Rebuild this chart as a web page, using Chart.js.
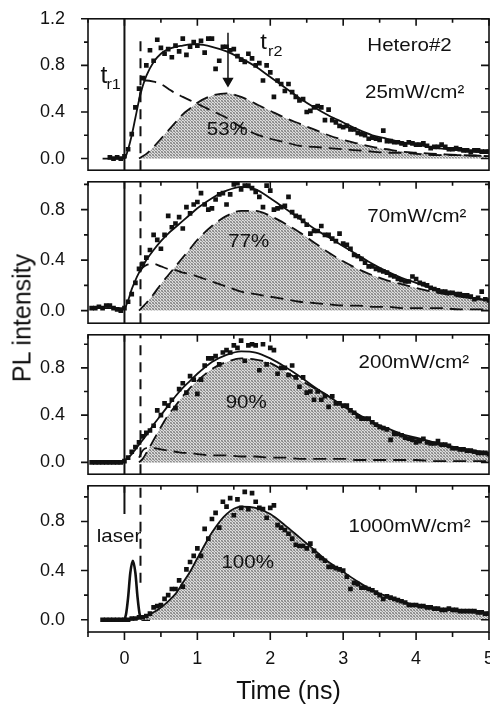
<!DOCTYPE html>
<html>
<head>
<meta charset="utf-8">
<script src="https://cdn.jsdelivr.net/npm/chart.js@4.4.1/dist/chart.umd.min.js"></script>
<style>
  html, body { margin: 0; padding: 0; background: #fff; overflow: hidden; }
  #wrap { position: relative; width: 490px; height: 708px; overflow: hidden; }
  #wrap canvas { position: absolute; left: 0; }
  #ylabel {
    position: absolute; left: 22px; top: 318px;
    transform: translate(-50%, -50%) rotate(-90deg);
    font: 25px "Liberation Sans", Arial, sans-serif; color: #111; white-space: nowrap;
  }
</style>
</head>
<body>
<div id="wrap">
  <canvas id="panel0"></canvas>
  <canvas id="panel1"></canvas>
  <canvas id="panel2"></canvas>
  <canvas id="panel3"></canvas>
  <div id="ylabel">PL intensity</div>
</div>
<script>
// sampling times of the measured points (ns)
const pointTimes = [
  -0.45,-0.40,-0.35,-0.30,-0.25,-0.20,-0.15,-0.10,-0.05,0.00,
  0.05,0.10,0.15,0.20,0.25,0.30,0.35,0.40,0.45,0.50,
  0.55,0.60,0.65,0.70,0.75,0.80,0.85,0.90,0.95,1.00,
  1.05,1.10,1.15,1.20,1.25,1.30,1.35,1.40,1.45,1.50,
  1.55,1.60,1.65,1.70,1.75,1.80,1.85,1.90,1.95,2.00,
  2.05,2.10,2.15,2.20,2.25,2.30,2.35,2.40,2.45,2.50,
  2.55,2.60,2.65,2.70,2.75,2.80,2.85,2.90,2.95,3.00,
  3.05,3.10,3.15,3.20,3.25,3.30,3.35,3.40,3.45,3.50,
  3.55,3.60,3.65,3.70,3.75,3.80,3.85,3.90,3.95,4.00,
  4.05,4.10,4.15,4.20,4.25,4.30,4.35,4.40,4.45,4.50,
  4.55,4.60,4.65,4.70,4.75,4.80,4.85,4.90,4.95,5.00
];

const points25 = [
  null,null,null,null,null,0.01,0.00,0.01,0.00,0.02,
  0.08,0.21,0.44,0.60,0.69,0.80,0.93,0.84,1.02,0.95,
  0.90,0.94,0.87,0.97,0.92,1.03,0.89,0.96,1.00,0.97,
  1.01,0.91,1.03,1.03,0.77,0.84,0.96,0.96,0.93,0.94,
  0.88,0.85,0.83,0.90,0.86,0.80,0.82,0.67,0.80,0.74,
  0.53,0.67,0.64,0.58,0.64,0.57,0.53,0.50,0.51,0.40,
  0.41,0.44,0.45,0.44,0.33,0.42,0.33,0.31,0.28,0.27,
  0.28,0.25,0.25,0.22,0.21,0.20,0.17,0.18,0.17,0.16,
  0.24,0.15,0.15,0.14,0.14,0.13,0.12,0.14,0.13,0.12,
  0.12,0.13,0.11,0.09,0.10,0.10,0.12,0.10,0.08,0.08,
  0.09,0.08,0.07,0.07,0.06,0.07,0.07,0.06,0.06,0.06
];
const points70 = [
  0.02,0.02,0.03,0.02,0.04,0.04,0.02,0.01,0.00,0.02,
  0.07,0.13,0.22,0.33,0.37,0.42,0.48,0.60,0.56,0.49,
  0.60,0.75,0.66,0.69,0.74,0.65,0.82,0.77,0.84,0.86,
  0.93,0.84,0.80,0.81,0.88,0.92,0.93,0.84,0.92,1.00,
  1.01,0.96,0.99,0.99,0.97,0.94,0.90,0.82,0.99,0.95,
  0.80,0.81,0.82,0.83,0.90,0.78,0.75,0.74,0.71,0.68,
  0.61,0.63,0.63,0.67,0.60,0.60,0.57,0.55,0.61,0.53,
  0.52,0.49,0.44,0.43,0.41,0.38,0.35,0.35,0.33,0.32,
  0.31,0.30,0.28,0.27,0.25,0.24,0.23,0.23,0.27,0.25,
  0.22,0.21,0.20,0.18,0.17,0.16,0.15,0.15,0.14,0.14,
  0.13,0.13,0.12,0.12,0.11,0.09,0.10,0.15,0.09,0.08
];
const points200 = [
  0.00,0.00,0.00,0.00,0.00,0.00,0.00,0.00,0.00,0.01,
  0.04,0.09,0.13,0.17,0.22,0.25,0.27,0.31,0.44,0.40,
  0.50,0.48,0.53,0.46,0.62,0.67,0.59,0.73,0.70,0.58,
  0.70,0.82,0.88,0.88,0.90,0.83,0.93,0.95,0.93,0.99,
  0.97,1.03,0.86,0.99,1.00,0.99,0.78,1.00,0.83,0.97,
  0.95,0.75,0.80,0.80,0.74,0.82,0.72,0.64,0.72,0.59,
  0.60,0.53,0.60,0.53,0.56,0.47,0.56,0.50,0.50,0.48,
  0.48,0.44,0.42,0.39,0.37,0.37,0.37,0.34,0.32,0.30,
  0.29,0.28,0.19,0.24,0.24,0.23,0.21,0.20,0.19,0.17,
  0.18,0.20,0.17,0.16,0.16,0.18,0.15,0.15,0.14,0.12,
  0.12,0.11,0.11,0.10,0.10,0.09,0.08,0.08,0.08,0.07
];
const points1000 = [
  null,null,null,0.00,0.00,0.00,0.00,0.00,0.00,0.00,
  0.00,0.01,0.01,0.02,0.02,0.03,0.05,0.10,0.11,0.12,
  0.17,0.20,0.25,0.25,0.32,0.27,0.41,0.47,0.52,0.58,
  0.52,0.74,0.66,0.82,0.87,0.75,0.96,0.92,0.99,0.85,
  0.98,0.91,1.04,0.90,1.03,0.96,0.91,0.90,0.83,0.91,
  0.93,0.77,0.75,0.73,0.70,0.66,0.61,0.60,0.60,0.58,
  0.62,0.56,0.52,0.50,0.48,0.43,0.43,0.42,0.41,0.40,
  0.35,0.25,0.30,0.29,0.26,0.26,0.25,0.24,0.22,0.20,
  0.17,0.19,0.18,0.17,0.16,0.15,0.14,0.12,0.12,0.12,
  0.11,0.11,0.10,0.10,0.09,0.09,0.08,0.08,0.09,0.08,
  0.08,0.07,0.07,0.07,0.07,0.07,0.06,0.06,0.05,0.05
];

// times of the fitted curves (ns)
const curveTimes = [
  -0.45,-0.3,-0.1,0,0.05,0.1,0.15,0.2,0.25,0.3,0.4,0.5,0.6,0.7,0.8,0.9,1.0,
  1.2,1.4,1.6,1.8,2.0,2.2,2.4,2.6,2.8,3.0,3.2,3.4,3.6,3.8,4.0,4.3,4.6,5.0
];
const fit25 = [null,0,0,0,0.08,0.2,0.35,0.5,0.62,0.71,0.83,0.9,0.94,0.96,0.97,0.98,0.98,
  0.96,0.92,0.86,0.79,0.7,0.61,0.52,0.44,0.37,0.31,0.25,0.2,0.17,0.14,0.12,0.09,0.07,0.05];
const fast25 = [null,null,null,null,null,null,null,0.5,0.66,0.67,0.66,0.64,0.6,0.56,0.53,0.5,0.47,
  0.41,0.35,0.27,0.21,0.17,0.14,0.11,0.1,0.09,0.08,0.07,0.06,0.05,0.05,0.04,0.03,0.03,0.02];
const slow25 = [null,null,null,null,null,null,null,0,0.02,0.04,0.1,0.17,0.24,0.31,0.38,0.43,0.48,
  0.54,0.56,0.53,0.47,0.41,0.35,0.3,0.25,0.2,0.16,0.13,0.1,0.08,0.06,0.05,0.04,0.03,0.02];

const fit70 = [0.02,0.02,0.02,0.02,0.08,0.17,0.24,0.3,0.35,0.4,0.48,0.55,0.61,0.66,0.71,0.76,0.81,
  0.89,0.95,0.98,0.96,0.89,0.81,0.73,0.65,0.58,0.51,0.44,0.37,0.31,0.26,0.22,0.16,0.12,0.08];
const fast70 = [null,null,null,null,null,null,null,0.3,0.34,0.36,0.37,0.35,0.33,0.32,0.3,0.29,0.27,
  0.23,0.19,0.15,0.13,0.11,0.09,0.07,0.06,0.05,0.04,0.04,0.03,0.03,0.02,0.02,0.02,0.01,0.01];
const slow70 = [null,null,null,null,null,null,null,0,0.03,0.06,0.13,0.21,0.28,0.35,0.42,0.49,0.56,
  0.67,0.75,0.79,0.79,0.75,0.69,0.62,0.54,0.46,0.39,0.33,0.28,0.24,0.21,0.18,0.14,0.11,0.08];

const fit200 = [0,0,0,0.02,0.04,0.07,0.11,0.15,0.19,0.23,0.32,0.4,0.48,0.56,0.63,0.69,0.75,
  0.85,0.91,0.94,0.93,0.88,0.81,0.73,0.64,0.56,0.48,0.41,0.34,0.29,0.24,0.21,0.16,0.12,0.08];
const fast200 = [null,null,null,null,null,null,null,0.04,0.1,0.12,0.12,0.11,0.1,0.09,0.08,0.08,0.07,
  0.06,0.06,0.05,0.05,0.04,0.04,0.03,0.03,0.03,0.03,0.02,0.02,0.02,0.02,0.02,0.01,0.01,0.01];
const slow200 = [null,null,null,null,null,null,null,0,0.03,0.08,0.19,0.3,0.4,0.48,0.56,0.63,0.69,
  0.79,0.85,0.88,0.87,0.84,0.77,0.7,0.63,0.56,0.48,0.4,0.33,0.28,0.23,0.2,0.15,0.11,0.07];

const fit1000 = [null,0,0,0,0,0,0.005,0.01,0.02,0.03,0.06,0.1,0.15,0.21,0.3,0.39,0.5,
  0.71,0.86,0.92,0.91,0.86,0.77,0.67,0.57,0.47,0.39,0.31,0.24,0.19,0.15,0.12,0.09,0.07,0.05];

// excitation pulse
const laserTimes = [-0.3,-0.02,0.02,0.05,0.08,0.115,0.15,0.18,0.21,0.25,0.35];
const laserValues = [0,0,0.04,0.18,0.38,0.48,0.38,0.18,0.04,0,0];

const powerLabels = ["25mW/cm\u00b2", "70mW/cm\u00b2", "200mW/cm\u00b2", "1000mW/cm\u00b2"];
const slowShares = ["53%", "77%", "90%", "100%"];

// layout of the four stacked panels
const panelRanges = [[-0.1, 1.2], [-0.1, 1.02], [-0.1, 1.08], [-0.1, 1.09]];
const panelPx = [[13, 176], [176, 329], [329, 480], [480, 632]];
const solidSpans = [[-0.1, 1.2], [-0.1, 1.02], [-0.1, 1.08], [0.86, 1.09]];
const dashSpans = [[-0.1, 1.02], [-0.1, 1.02], [-0.1, 1.08], [0.3, 1.09]];

const ink = "#111";
const family = '"Liberation Sans", Arial, Helvetica, sans-serif';

const annotations = [
  [
    { text: "Hetero#2", t: 3.91, v: 0.924, size: 19 },
    { text: powerLabels[0], t: 3.98, v: 0.518, size: 19 },
    { text: slowShares[0], t: 1.41, v: 0.2, size: 19 },
    { text: "t", t: -0.33, v: 0.645, size: 23, align: "left" },
    { text: "r1", t: -0.247, v: 0.6, size: 15, align: "left" },
    { text: "t", t: 1.863, v: 0.94, size: 22, align: "left" },
    { text: "r2", t: 1.97, v: 0.877, size: 15, align: "left" },
  ],
  [
    { text: powerLabels[1], t: 4.01, v: 0.7, size: 19 },
    { text: slowShares[1], t: 1.705, v: 0.507, size: 19 },
  ],
  [
    { text: powerLabels[2], t: 3.97, v: 0.8, size: 19 },
    { text: slowShares[2], t: 1.67, v: 0.463, size: 19 },
  ],
  [
    { text: powerLabels[3], t: 3.91, v: 0.714, size: 19 },
    { text: slowShares[3], t: 1.69, v: 0.424, size: 19 },
    { text: "laser", t: -0.075, v: 0.635, size: 19 },
  ],
];

// frame, minor/major ticks on all four sides
const frameTicks = {
  id: "frameTicks",
  afterDatasetsDraw(chart, args, opts) {
    const { ctx, chartArea: a } = chart;
    const x = chart.scales.x;
    const y = chart.scales.y;
    ctx.save();
    ctx.strokeStyle = ink;
    ctx.lineWidth = 1.6;
    ctx.strokeRect(a.left, a.top, a.right - a.left, a.bottom - a.top);
    ctx.beginPath();
    for (let k = Math.ceil(y.min / 0.2 - 1e-6); k * 0.2 <= y.max + 1e-6; k++) {
      const py = y.getPixelForValue(k * 0.2);
      const major = k % 2 === 0;
      ctx.moveTo(a.left - (major ? 7 : 4), py);
      ctx.lineTo(a.left, py);
      ctx.moveTo(a.right, py);
      ctx.lineTo(a.right - (major ? 8 : 4), py);
    }
    for (let k = Math.ceil(x.min / 0.5 - 1e-6); k * 0.5 <= x.max + 1e-6; k++) {
      const px = x.getPixelForValue(k * 0.5);
      const major = k % 2 === 0;
      ctx.moveTo(px, a.top);
      ctx.lineTo(px, a.top + (major ? 7 : 4));
      if (opts.bottomTicks) {
        ctx.moveTo(px, a.bottom);
        ctx.lineTo(px, a.bottom + (major ? 8 : 5));
      }
    }
    ctx.stroke();
    ctx.restore();
  },
};

// labels placed in data coordinates
const annotationText = {
  id: "annotationText",
  afterDatasetsDraw(chart, args, opts) {
    const { ctx } = chart;
    const x = chart.scales.x;
    const y = chart.scales.y;
    ctx.save();
    ctx.fillStyle = ink;
    ctx.textBaseline = "alphabetic";
    (opts.items || []).forEach((it) => {
      ctx.font = `${it.size}px ${family}`;
      ctx.textAlign = it.align || "center";
      ctx.save();
      ctx.translate(x.getPixelForValue(it.t), y.getPixelForValue(it.v));
      ctx.scale(1.08, 1);
      ctx.fillText(it.text, 0, 0);
      ctx.restore();
    });
    ctx.restore();
  },
};

function makeHalftone(ctx) {
  const c = document.createElement("canvas");
  c.width = 3;
  c.height = 3;
  const g = c.getContext("2d");
  const img = g.createImageData(3, 3);
  const shades = [0x80, 0xd2, 0xa8, 0xd2, 0x98, 0xe2, 0xa8, 0xe2, 0x88];
  shades.forEach((s, i) => {
    img.data[i * 4] = s;
    img.data[i * 4 + 1] = s;
    img.data[i * 4 + 2] = s;
    img.data[i * 4 + 3] = 255;
  });
  g.putImageData(img, 0, 0);
  return ctx.createPattern(c, "repeat");
}

function scatterSet(values) {
  return {
    data: pointTimes.map((t, i) => ({ x: t, y: values[i] })).filter((p) => p.y !== null),
    showLine: false,
    pointStyle: "rect",
    pointRadius: 3.3,
    pointBackgroundColor: ink,
    pointBorderColor: ink,
    pointBorderWidth: 0,
  };
}

function curveSet(values, extra) {
  return Object.assign(
    {
      data: curveTimes.map((t, i) => ({ x: t, y: values[i] })).filter((p) => p.y !== null),
      borderColor: ink,
      borderWidth: 1.8,
      pointRadius: 0,
      cubicInterpolationMode: "monotone",
      fill: false,
    },
    extra
  );
}

function vline(t, span, dashed) {
  return {
    data: [{ x: t, y: span[0] }, { x: t, y: span[1] }],
    borderColor: ink,
    borderWidth: 2,
    borderDash: dashed ? [10, 7] : [],
    pointRadius: 0,
    fill: false,
  };
}

function buildPanel(idx, datasets, xAxisShown) {
  const [top, bottom] = panelPx[idx];
  const [yMin, yMax] = panelRanges[idx];
  const canvas = document.getElementById("panel" + idx);
  const padTop = 20;
  const padBottom = xAxisShown ? 0 : 20;
  const height = xAxisShown ? 708 - (top - padTop) : bottom - top + padTop + padBottom;
  canvas.width = 505;
  canvas.height = height;
  canvas.style.width = "505px";
  canvas.style.height = height + "px";
  canvas.style.top = top - padTop + "px";

  new Chart(canvas, {
    type: "line",
    data: { datasets },
    options: {
      responsive: false,
      animation: false,
      devicePixelRatio: 1,
      events: [],
      layout: { padding: { top: padTop, bottom: padBottom, left: 0, right: 16 } },
      plugins: {
        legend: { display: false },
        tooltip: { enabled: false },
        frameTicks: { bottomTicks: xAxisShown },
        annotationText: { items: annotations[idx] },
      },
      scales: {
        x: {
          type: "linear",
          min: -0.5,
          max: 5,
          display: xAxisShown,
          grid: { display: false },
          border: { display: false },
          ticks: {
            stepSize: 1,
            includeBounds: false,
            padding: 8,
            maxRotation: 0,
            color: ink,
            font: { family, size: 18 },
          },
          title: {
            display: true,
            text: "Time (ns)",
            color: ink,
            font: { family, size: 25 },
            padding: { top: 0, bottom: 1 },
          },
          afterFit: (s) => {
            s.height = xAxisShown ? 708 - bottom : 0;
          },
        },
        y: {
          type: "linear",
          min: yMin,
          max: yMax,
          grid: { display: false },
          border: { display: false },
          ticks: {
            stepSize: 0.4,
            includeBounds: false,
            padding: 15,
            color: ink,
            font: { family, size: 18 },
            callback: (v) => Number(v).toFixed(1),
          },
          afterFit: (s) => {
            s.width = 88;
          },
        },
      },
    },
    plugins: [frameTicks, annotationText],
  });
}

function panelCtx(idx) {
  return document.getElementById("panel" + idx).getContext("2d");
}

const dashStyle = { borderDash: [13, 7] };

// 25 mW/cm2
buildPanel(0, [
  scatterSet(points25),
  curveSet(fit25),
  curveSet(fast25, dashStyle),
  curveSet(slow25, Object.assign({ fill: "origin", backgroundColor: makeHalftone(panelCtx(0)) }, dashStyle)),
  {
    data: [{ x: 1.42, y: 1.08 }, { x: 1.42, y: 0.665 }],
    borderColor: ink,
    borderWidth: 1.5,
    pointStyle: "triangle",
    pointRotation: 180,
    pointRadius: (c) => (c.dataIndex === 1 ? 5 : 0),
    pointBackgroundColor: ink,
    pointBorderColor: ink,
    fill: false,
  },
  vline(0, solidSpans[0], false),
  vline(0.22, dashSpans[0], true),
], false);

// 70 mW/cm2
buildPanel(1, [
  scatterSet(points70),
  curveSet(fit70),
  curveSet(fast70, dashStyle),
  curveSet(slow70, Object.assign({ fill: "origin", backgroundColor: makeHalftone(panelCtx(1)) }, dashStyle)),
  vline(0, solidSpans[1], false),
  vline(0.22, dashSpans[1], true),
], false);

// 200 mW/cm2
buildPanel(2, [
  scatterSet(points200),
  curveSet(fit200),
  curveSet(fast200, dashStyle),
  curveSet(slow200, Object.assign({ fill: "origin", backgroundColor: makeHalftone(panelCtx(2)) }, dashStyle)),
  vline(0, solidSpans[2], false),
  vline(0.22, dashSpans[2], true),
], false);

// 1000 mW/cm2
buildPanel(3, [
  scatterSet(points1000),
  curveSet(fit1000, { fill: "origin", backgroundColor: makeHalftone(panelCtx(3)) }),
  {
    data: laserTimes.map((t, i) => ({ x: t, y: laserValues[i] })),
    borderColor: ink,
    borderWidth: 2.6,
    pointRadius: 0,
    cubicInterpolationMode: "monotone",
    fill: false,
  },
  vline(0, solidSpans[3], false),
  vline(0.22, dashSpans[3], true),
], true);
</script>
</body>
</html>
